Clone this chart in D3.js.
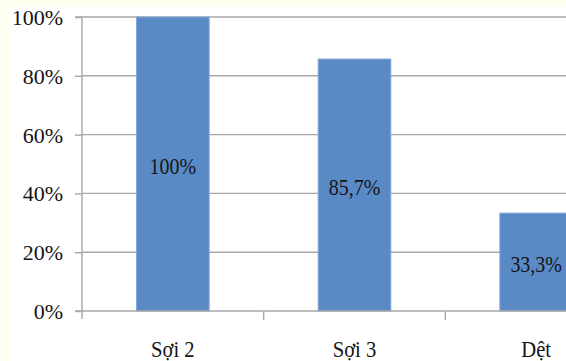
<!DOCTYPE html>
<html><head><meta charset="utf-8"><script src="https://cdn.jsdelivr.net/npm/d3@7"></script>
<style>
@font-face { font-family: "RefSerif"; src: local("Liberation Serif"), local("LiberationSerif"), local("FreeSerif"), local("Tinos"); }
</style>
</head>
<body style="margin:0;background:#fffff2">
<svg id="s" width="566" height="361" style="display:block"></svg>
<script>
const categories = ["Sợi 2", "Sợi 3", "Dệt"];
const values = [1.0, 0.857, 0.333];
const valueLabels = ["100%", "85,7%", "33,3%"];
const yTicks = [0, 0.2, 0.4, 0.6, 0.8, 1.0];
const yTickLabels = ["0%", "20%", "40%", "60%", "80%", "100%"];

const svg = d3.select("#s");
const W = 566, H = 361;
const mLeft = 82, mRight = 627, mTop = 17, mBottom = 311;
const textColor = "#151515";
const gridColor = "#a8a8a8";
const fam = "\"Liberation Serif\", \"RefSerif\", \"FreeSerif\", \"Tinos\", serif";

function serif(sel, size) {
  sel.attr("font-family", fam)
     .attr("font-size", size)
     .style("font-family", fam, "important")
     .style("font-size", size + "px", "important")
     .attr("fill", textColor);
}

svg.append("rect").attr("x", 0).attr("y", 0).attr("width", W).attr("height", H).attr("fill", "#fffff2");
svg.append("rect").attr("x", 12).attr("y", 7).attr("width", W - 12).attr("height", H - 7).attr("fill", "#ffffff");

const x = d3.scaleBand().domain(categories).range([mLeft, mRight]).paddingInner(0.6).paddingOuter(0.3);
const y = d3.scaleLinear().domain([0, 1]).range([mBottom, mTop]);

svg.append("g").selectAll("line").data(yTicks.filter(d => d > 0)).join("line")
  .attr("x1", mLeft).attr("x2", mRight)
  .attr("y1", d => y(d)).attr("y2", d => y(d))
  .attr("stroke", gridColor).attr("stroke-width", 1.4);

svg.append("g").selectAll("rect").data(values).join("rect")
  .attr("x", (d, i) => x(categories[i]))
  .attr("y", d => y(d))
  .attr("width", x.bandwidth())
  .attr("height", d => y(0) - y(d))
  .attr("fill", "#5a8ac6")
  .attr("stroke", "#86a9d7")
  .attr("stroke-width", 1);

const yAxis = d3.axisLeft(y).tickValues(yTicks).tickSize(7).tickPadding(12)
  .tickFormat((d, i) => yTickLabels[i]);
const gy = svg.append("g").attr("transform", `translate(${mLeft},0)`).call(yAxis);
gy.select(".domain").attr("stroke", gridColor).attr("stroke-width", 1.4).attr("d", `M-7,${mTop}H0V${mBottom + 8}`);
gy.selectAll(".tick line").attr("stroke", gridColor).attr("stroke-width", 1.4);
gy.selectAll(".tick text").remove();

svg.append("g").selectAll("text").data(yTicks).join("text")
  .attr("x", mLeft - 19).attr("y", d => y(d) + 8)
  .attr("text-anchor", "end")
  .call(serif, 22)
  .text((d, i) => yTickLabels[i]);

svg.append("line").attr("x1", mLeft - 7).attr("x2", mRight).attr("y1", y(0)).attr("y2", y(0))
  .attr("stroke", gridColor).attr("stroke-width", 1.4);

const step = x.step();
const seps = categories.map((c) => x(c) + x.bandwidth() + step * x.paddingInner() / 2);
svg.append("g").selectAll("line").data(seps).join("line")
  .attr("x1", d => d).attr("x2", d => d)
  .attr("y1", y(0)).attr("y2", y(0) + 9)
  .attr("stroke", gridColor).attr("stroke-width", 1.4);

svg.append("g").selectAll("text").data(categories).join("text")
  .attr("transform", d => `translate(${x(d) + x.bandwidth() / 2},357) scale(0.86,1)`)
  .attr("text-anchor", "middle")
  .call(serif, 24)
  .text(d => d);

svg.append("g").selectAll("text").data(values).join("text")
  .attr("transform", (d, i) => `translate(${x(categories[i]) + x.bandwidth() / 2},${(y(d) + y(0)) / 2 + 10}) scale(0.85,1)`)
  .attr("text-anchor", "middle")
  .call(serif, 23.5)
  .text((d, i) => valueLabels[i]);
</script></body></html>
